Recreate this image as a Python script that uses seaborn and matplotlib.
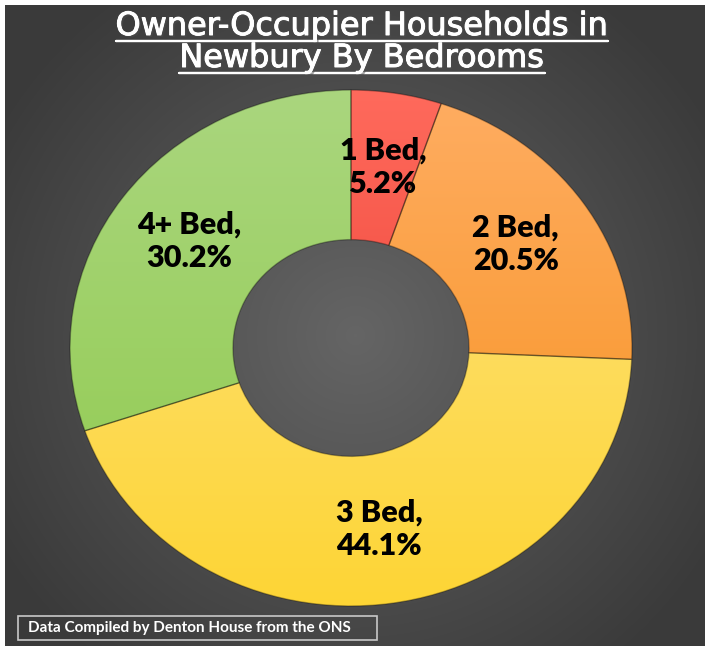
import numpy as np
import matplotlib
matplotlib.use("Agg")
import matplotlib.pyplot as plt
import matplotlib.patheffects as pe
from matplotlib.lines import Line2D
from matplotlib.patches import Rectangle
import seaborn as sns

# data
categories = ["1 Bed", "2 Bed", "3 Bed", "4+ Bed"]
shares = [5.2, 20.5, 44.1, 30.2]
top_colors = ["#ff6a5c", "#ffad62", "#ffe385", "#aad67e"]
bottom_colors = ["#e5352a", "#f5901a", "#fdd535", "#8fca4c"]
title_lines = ["Owner-Occupier Households in", "Newbury By Bedrooms"]
source_note = "Data Compiled by Denton House from the ONS"

sns.set_theme(style="white")
plt.rcParams["font.family"] = ["Lato", "DejaVu Sans"]

W, H = 710, 651
fig = plt.figure(figsize=(W / 100, H / 100), dpi=100, facecolor="white")

# dark panel with a soft radial gradient
bg = fig.add_axes([5 / W, 5 / H, 700 / W, 641 / H])
yy, xx = np.mgrid[0:641, 0:700]
dist = np.hypot((xx - 350) / 420, (yy - 330) / 420)
bg_cmap = sns.blend_palette(["#656565", "#3a3a3a"], as_cmap=True)
bg.imshow(dist, cmap=bg_cmap, vmin=0, vmax=1, aspect="auto", interpolation="bilinear")
bg.set_axis_off()

# donut (slightly wider than tall, as in the reference)
ax = fig.add_axes([41.9 / W, 19.2 / H, 618.2 / W, 567.6 / H])
ax.patch.set_alpha(0)
ring = 0.58
wedges, _ = ax.pie(shares, startangle=90, counterclock=False, radius=1.0,
                   wedgeprops=dict(width=ring, edgecolor=(0, 0, 0, 0.3), linewidth=1))

grad = np.linspace(1, 0, 256).reshape(-1, 1)
for w, c_top, c_bot in zip(wedges, top_colors, bottom_colors):
    cmap = sns.blend_palette([c_bot, c_top], as_cmap=True)
    im = ax.imshow(grad, extent=(-1, 1, -1, 1), cmap=cmap, vmin=0, vmax=1,
                   aspect="auto", interpolation="bilinear", zorder=0.5)
    im.set_clip_path(w)
    w.set_facecolor("none")

for w, cat, s in zip(wedges, categories, shares):
    ang = np.deg2rad((w.theta1 + w.theta2) / 2)
    rr = 1 - ring / 2
    ax.text(rr * np.cos(ang), rr * np.sin(ang), f"{cat},\n{s:.1f}%",
            ha="center", va="center", fontsize=22, fontweight="heavy",
            color="black", linespacing=1.25, zorder=5)

ax.set_xlim(-1.1, 1.1)
ax.set_ylim(-1.1, 1.1)
ax.set_aspect("auto")
ax.set_axis_off()

# title with underlines
shadow = [pe.withSimplePatchShadow(offset=(1.5, -1.5), alpha=0.5),
          pe.withStroke(linewidth=0.7, foreground="white")]
title_texts = []
for i, line in enumerate(title_lines):
    t = fig.text(362 / W, 1 - (35 + 32 * i) / H, line, ha="center", va="baseline",
                 fontsize=23, family="DejaVu Sans", color="white", path_effects=shadow)
    title_texts.append(t)

fig.canvas.draw()
renderer = fig.canvas.get_renderer()
line_fx = [pe.withSimplePatchShadow(offset=(1.5, -1.5), alpha=0.5), pe.Normal()]
for i, t in enumerate(title_texts):
    bb = t.get_window_extent(renderer)
    y_line = 1 - (40.5 + 32.5 * i) / H
    fig.add_artist(Line2D([bb.x0 / W, bb.x1 / W], [y_line, y_line], color="white",
                          lw=1.6, path_effects=line_fx))

# source note box
fig.add_artist(Rectangle((18 / W, 11 / H), 359 / W, 24 / H, transform=fig.transFigure,
                         fill=False, edgecolor="#c8c8c8", lw=1.2))
fig.text(28 / W, 23 / H, source_note, ha="left", va="center", fontsize=11,
         fontweight="bold", color="white")

fig.savefig("out.png", dpi=100, facecolor="white")
